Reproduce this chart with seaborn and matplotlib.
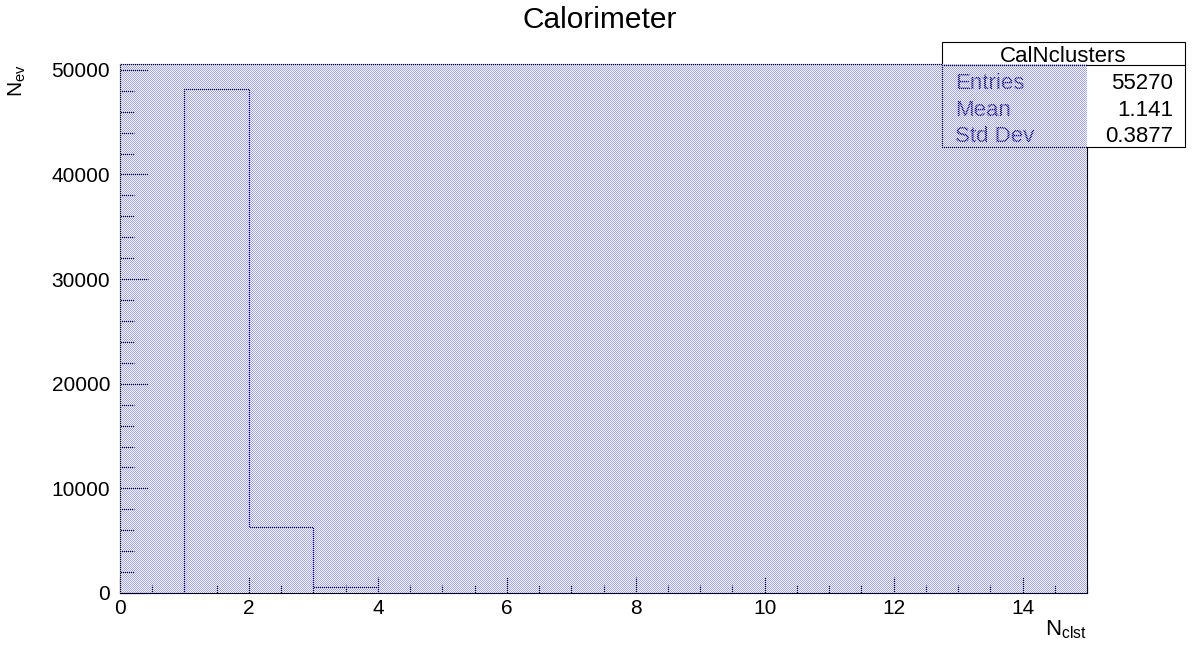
import numpy as np
import pandas as pd
import matplotlib
matplotlib.use("Agg")
import matplotlib.pyplot as plt
import matplotlib.ticker as mticker
import seaborn as sns
from matplotlib.patches import Rectangle
from matplotlib.lines import Line2D

# histogram content
n_clusters = [1, 2, 3]
n_events = [48150, 6300, 600]
bin_edges = list(range(0, 16))
x_ticks = [0, 2, 4, 6, 8, 10, 12, 14]
y_ticks = [0, 10000, 20000, 30000, 40000, 50000]
stat_title = "CalNclusters"
stat_names = ["Entries", "Mean", "Std Dev"]
stat_values = ["55270", "1.141", "0.3877"]

W, H = 1199, 661
sns.set_theme(style="white")
plt.rcParams["font.family"] = ["Liberation Sans", "DejaVu Sans"]
plt.rcParams["mathtext.default"] = "regular"
plt.rcParams["text.color"] = "black"

fig = plt.figure(figsize=(W / 100, H / 100), dpi=100)
fig.patch.set_facecolor("white")

# frame in pixels
L, R, T, B = 120, 1087, 64, 593
ax = fig.add_axes([L / W, 1 - B / H, (R - L) / W, (B - T) / H])
ax.set_facecolor("white")

df = pd.DataFrame({"n": n_clusters, "w": n_events})
sns.histplot(data=df, x="n", weights="w", bins=bin_edges, element="step",
             fill=False, color="#00008b", linewidth=0.8, ax=ax)

ax.set_xlim(0, 15)
ax.set_ylim(0, 50560)
ax.set_xlabel("")
ax.set_ylabel("")
ax.set_xticks(x_ticks)
ax.set_yticks(y_ticks)
ax.set_xticklabels([str(v) for v in x_ticks])
ax.set_yticklabels([str(v) for v in y_ticks])
ax.xaxis.set_minor_locator(mticker.MultipleLocator(0.5))
ax.yaxis.set_minor_locator(mticker.MultipleLocator(2000))

ax.tick_params(axis="x", which="major", direction="in", length=11.5, width=0.8,
               pad=4, labelsize=15, bottom=True, top=False, colors="black")
ax.tick_params(axis="x", which="minor", direction="in", length=5.8, width=0.8,
               bottom=True, top=False, colors="black")
ax.tick_params(axis="y", which="major", direction="in", length=20, width=0.8,
               pad=7, labelsize=15, left=True, right=False, colors="black")
ax.tick_params(axis="y", which="minor", direction="in", length=10, width=0.8,
               left=True, right=False, colors="black")
for s in ax.spines.values():
    s.set_visible(True)
    s.set_color("black")
    s.set_linewidth(0.8)

# title and axis titles
fig.text(600 / W, 1 - 28.5 / H, "Calorimeter", ha="center", va="baseline", fontsize=21.5)
fig.text(1087 / W, 1 - 635 / H, r"$N_{clst}$", ha="right", va="baseline", fontsize=16)
fig.text(17 / W, 1 - 64 / H, r"$N_{ev}$", ha="center", va="top", rotation=90, fontsize=15)

# stats box
bx0, bx1, by0, by1 = 942, 1185, 42, 147
fig.add_artist(Rectangle((bx0 / W, 1 - by1 / H), (bx1 - bx0) / W, (by1 - by0) / H,
                         transform=fig.transFigure, facecolor="white",
                         edgecolor="black", linewidth=0.8, zorder=5))
fig.add_artist(Line2D([bx0 / W, bx1 / W], [1 - 65 / H, 1 - 65 / H],
                      transform=fig.transFigure, color="black", linewidth=0.8, zorder=5))
fig.text((bx0 + bx1) / 2 / W, 1 - 61.5 / H, stat_title, ha="center", va="baseline",
         fontsize=16, zorder=5)
for i, (name, val) in enumerate(zip(stat_names, stat_values)):
    yb = 89 + i * 26.5
    fig.text(955 / W, 1 - yb / H, name, ha="left", va="baseline", fontsize=16,
             color="#101060", zorder=5)
    fig.text(1173 / W, 1 - yb / H, val, ha="right", va="baseline", fontsize=16,
             color="black", zorder=5)

# ROOT style dotted fill pattern drawn over the whole frame (checkerboard)
ph, pw = B - T, R - L
dot = [160 / 255, 160 / 255, 240 / 255, 1.0]
pat = np.zeros((ph, pw, 4))
pat[0::2, 0::2] = dot
pat[1::2, 1::2] = dot
fig.figimage(pat, xo=L, yo=H - B, zorder=6)

fig.savefig("out.png", dpi=100)
